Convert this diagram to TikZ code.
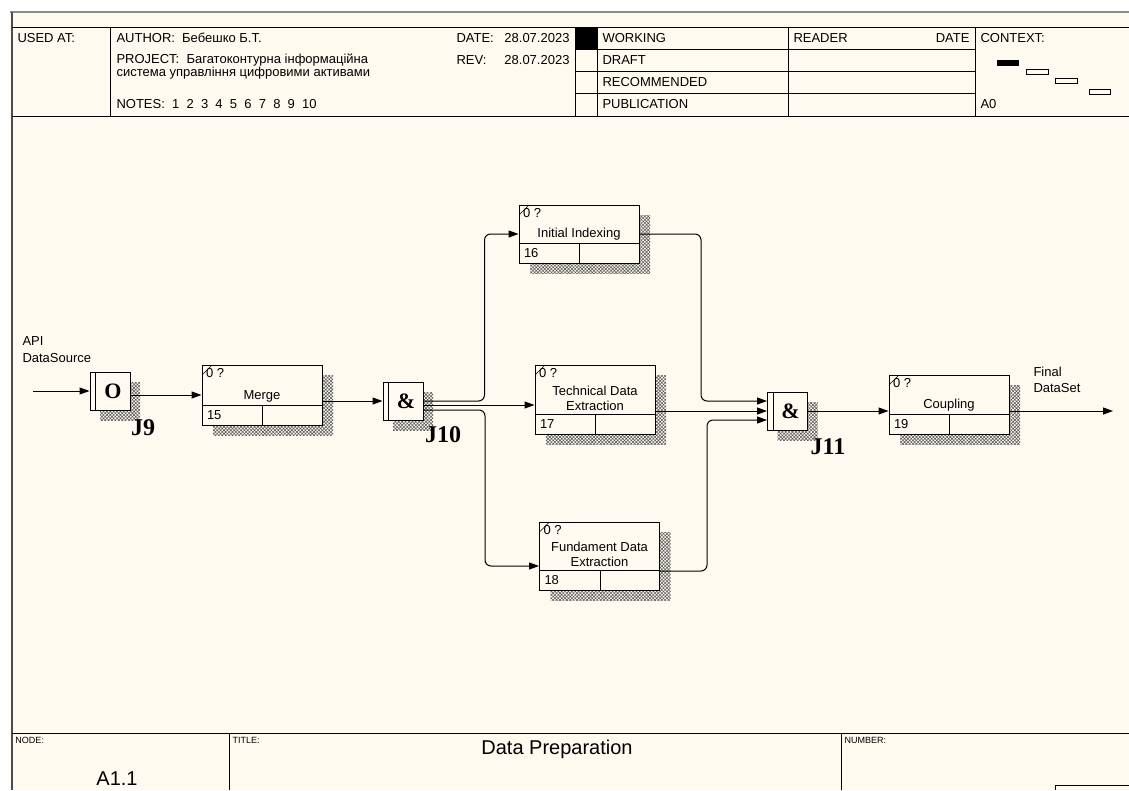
\documentclass[tikz,border=0pt]{standalone}
\usepackage{fontspec}
\setmainfont{Liberation Sans}
\newfontfamily\jfont{Liberation Serif}
\usetikzlibrary{arrows.meta,patterns.meta,calc}
\definecolor{paper}{RGB}{255,250,240}
\tikzset{
  act/.style={draw, fill=paper, line width=1pt, minimum width=120pt, inner sep=0pt},
  jbox/.style={draw, fill=paper, line width=1pt, minimum width=40pt, minimum height=38pt, inner sep=0pt},
  hatch/.style={pattern={Hatch[angle=45,distance=2.4pt,line width=0.55pt]}, pattern color=black!65, inner sep=0pt},
  lbl/.style={font=\fontsize{13}{15}\selectfont, inner sep=0pt},
  sml/.style={font=\fontsize{9}{10}\selectfont, inner sep=0pt},
  jsym/.style={font=\jfont\bfseries\fontsize{22}{22}\selectfont, inner sep=0pt},
  jlbl/.style={font=\jfont\bfseries\fontsize{24}{24}\selectfont, inner sep=0pt},
}
\newcommand{\actbox}[6]{%
  \node[hatch, minimum width=120pt, minimum height=#4pt] (#1-sh) at (#2+11,#3+10) {};
  \node[act, minimum height=#4pt] (#1) at (#2,#3) {};
  \draw ($(#1.south west)+(0,-20)$) -- ++(120,0);
  \draw ($(#1.south west)+(61,0)$) -- ++(0,-20);
  \draw[line width=0.6pt] ($(#1.north west)+(1,10)$) -- ++(9,-9);
  \node[lbl, anchor=north west] (#1-id) at ($(#1.north west)+(4,3)$) {0 ?};
  \node[lbl, anchor=south, align=center] (#1-name) at ($(#1.south)+(0,-23)$) {#5};
  \node[lbl, anchor=west] (#1-num) at ($(#1.south west)+(5,-10)$) {#6};
}
\newcommand{\junc}[4]{%
  \node[hatch, minimum width=40pt, minimum height=38pt] (#1-sh) at (#2+10,#3+10) {};
  \node[jbox] (#1) at (#2,#3) {};
  \draw ($(#1.north west)+(6,0)$) -- ($(#1.south west)+(6,0)$);
  \node[jsym] (#1-sym) at ($(#1.center)+(3,0)$) {#4};
}
\begin{document}
\begin{tikzpicture}[x=1pt, y=-1pt, >={Triangle[length=10pt,width=7pt]}, line width=1pt]
\useasboundingbox (0,0) rectangle (1129,790);
\fill[paper] (0,0) rectangle (1129,790);
\fill[white] (0,0) rectangle (1129,11);
\fill[white] (0,0) rectangle (10,790);
\draw[black!45, line width=2pt] (10,12) -- (1129,12);
\draw[black!70, line width=2pt] (12,12) -- (12,790);

\draw (12,27) -- (1129,27);
\draw (12,116) -- (1129,116);
\foreach \x in {110,575,597,788,975} \draw (\x,27) -- (\x,116);
\foreach \y in {49,71,93.5} \draw (575,\y) -- (975,\y);
\fill (575,27) rectangle (597,49);

\node[lbl, anchor=west] (usedat) at (17,38) {USED AT:};
\node[lbl, anchor=west] (author) at (116,38) {AUTHOR:\ \ Бебешко Б.Т.};
\node[lbl, anchor=west] (project) at (116,60) {PROJECT:\ \ Багатоконтурна інформаційна};
\node[lbl, anchor=west] (project2) at (116,73) {система управління цифровими активами};
\node[lbl, anchor=west] (notes) at (116,104.5) {NOTES:\ \ 1\ \ 2\ \ 3\ \ 4\ \ 5\ \ 6\ \ 7\ \ 8\ \ 9\ \ 10};
\node[lbl, anchor=west] (datek) at (456,38) {DATE:};
\node[lbl, anchor=east] (datev) at (570,38) {28.07.2023};
\node[lbl, anchor=west] (revk) at (456,60) {REV:};
\node[lbl, anchor=east] (revv) at (570,60) {28.07.2023};
\node[lbl, anchor=west] (working) at (602,38) {WORKING};
\node[lbl, anchor=west] (draft) at (602,60) {DRAFT};
\node[lbl, anchor=west] (recom) at (602,82) {RECOMMENDED};
\node[lbl, anchor=west] (publ) at (602,104.5) {PUBLICATION};
\node[lbl, anchor=west] (reader) at (793,38) {READER};
\node[lbl, anchor=east] (rdate) at (970,38) {DATE};
\node[lbl, anchor=west] (context) at (980,38) {CONTEXT:};
\node[lbl, anchor=west] (azero) at (980,104.5) {A0};
\fill (997,60) rectangle (1019,66);
\draw (1026,69) rectangle (1048,74);
\draw (1055,78) rectangle (1077,83);
\draw (1089,89) rectangle (1110,94);

\junc{j9}{110}{391}{O}
\actbox{merge}{262}{395}{60}{Merge}{15}
\junc{j10}{403}{401}{\&}
\actbox{indexing}{579}{234}{58}{Initial Indexing}{16}
\actbox{techx}{595}{399.5}{69}{Technical Data\\Extraction}{17}
\actbox{fundx}{599.5}{556}{68}{Fundament Data\\Extraction}{18}
\junc{j11}{787.5}{411}{\&}
\actbox{coupling}{949}{404.5}{59}{Coupling}{19}

\node[jlbl] (j9l) at (143,428) {J9};
\node[jlbl] (j10l) at (443,435) {J10};
\node[jlbl] (j11l) at (828,447) {J11};

\coordinate (api) at (33,391);
\node[lbl, align=left, anchor=north west, font=\fontsize{13}{17}\selectfont] (apil) at (22,336) {API\\DataSource};
\draw[->] (api) -- (j9.west);
\draw[->] (j9.east |- merge.west) -- (merge.west);
\draw[->] (merge.east |- j10.west) -- (j10.west);
\draw[->, rounded corners=6pt] (j10.east) -| ([xshift=-34pt]indexing.west) -- (indexing.west);
\coordinate (j10m) at ([yshift=-4pt]j10.east);
\coordinate (j10b) at ([yshift=-9pt]j10.east);
\draw[->] (j10m) -- (j10m -| techx.west);
\coordinate (fundin) at ([yshift=-10pt]fundx.west);
\draw[->, rounded corners=6pt] (j10b) -| ([xshift=-54pt]fundin) -- (fundin);
\coordinate (j11a) at ([yshift=10pt]j11.west);
\coordinate (j11c) at ([yshift=-9pt]j11.west);
\draw[->, rounded corners=6pt] (indexing.east) -| ([xshift=-66pt]j11a) -- (j11a);
\draw[->] (techx.east |- j11.west) -- (j11.west);
\coordinate (fundout) at ([yshift=-15pt]fundx.east);
\draw[->, rounded corners=6pt] (fundout) -| ([xshift=-60pt]j11c) -- (j11c);
\draw[->] (j11.east) -- (j11.east -| coupling.west);
\coordinate (out) at (1113,411);
\draw[->] (coupling.east |- out) -- (out);
\node[lbl, align=left, anchor=north west, font=\fontsize{13}{16}\selectfont] (finl) at (1033,367) {Final\\DataSet};

\draw (12,733) -- (1129,733);
\draw (229,733) -- (229,790);
\draw (841,733) -- (841,790);
\draw (1129,785) -- (1055,785) -- (1055,790);
\node[sml, anchor=west] (nodek) at (15,740) {NODE:};
\node[sml, anchor=west] (titlek) at (232,740) {TITLE:};
\node[sml, anchor=west] (numk) at (844,740) {NUMBER:};
\node[inner sep=0pt, font=\fontsize{20}{24}\selectfont] (title) at (557,749) {Data Preparation};
\node[inner sep=0pt, font=\fontsize{20}{24}\selectfont] (nodev) at (117,779) {A1.1};
\end{tikzpicture}
\end{document}
